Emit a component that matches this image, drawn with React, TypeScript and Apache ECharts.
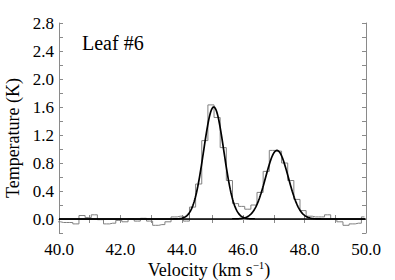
import React, { useEffect, useRef } from "react";
import * as echarts from "echarts";

// Channel centres (km/s) and measured brightness temperatures (K)
const velocities: number[] = [
  39.95, 40.15, 40.35, 40.55, 40.75, 40.95, 41.15, 41.35, 41.55, 41.75,
  41.95, 42.15, 42.35, 42.55, 42.75, 42.95, 43.15, 43.35, 43.55, 43.75,
  43.95, 44.15, 44.35, 44.55, 44.75, 44.95, 45.15, 45.35, 45.55, 45.75,
  45.95, 46.15, 46.35, 46.55, 46.75, 46.95, 47.15, 47.35, 47.55, 47.75,
  47.95, 48.15, 48.35, 48.55, 48.75, 48.95, 49.15, 49.35, 49.55, 49.75,
  49.95,
];
const temperatures: number[] = [
  -0.04, -0.05, -0.05, -0.07, 0.05, 0.02, 0.06, -0.01, -0.07, -0.06,
  -0.02, -0.04, 0.0, -0.03, 0.01, -0.03, -0.09, -0.08, -0.04, 0.03,
  0.04, -0.03, 0.17, 0.5, 1.12, 1.63, 1.45, 1.02, 0.55, 0.22,
  0.18, 0.14, 0.2, 0.38, 0.68, 0.98, 0.97, 0.8, 0.55, 0.28,
  0.12, 0.04, 0.03, 0.03, 0.06, 0.0, -0.04, -0.09, -0.07, -0.06,
  0.03,
];

// Gaussian fit components: amplitude (K), centre (km/s), sigma (km/s)
const fitAmplitudes: number[] = [1.6, 0.98];
const fitCentres: number[] = [45.04, 47.1];
const fitSigmas: number[] = [0.33, 0.37];

const xTicks: number[] = [40, 42, 44, 46, 48, 50];
const yTicks: number[] = [0, 0.4, 0.8, 1.2, 1.6, 2.0, 2.4, 2.8];

const FONT = "Liberation Serif";

function fitCurve(i: number): number[][] {
  const pts: number[][] = [];
  for (let k = 0; k <= 500; k++) {
    const v = xTicks[0] + (k * (xTicks[xTicks.length - 1] - xTicks[0])) / 500;
    const d = v - fitCentres[i];
    pts.push([v, fitAmplitudes[i] * Math.exp(-(d * d) / (2 * fitSigmas[i] * fitSigmas[i]))]);
  }
  return pts;
}

export default function App() {
  const ref = useRef<HTMLDivElement>(null);
  useEffect(() => {
    document.body.style.margin = "0";
    const chart = echarts.init(ref.current!, undefined, { renderer: "svg" });
    const axisGrey = "#8a8a8a";
    const labelStyle = {
      fontFamily: FONT,
      fontSize: 17,
      color: "#000",
    };
    chart.setOption({
      animation: false,
      textStyle: { fontFamily: FONT, fontSize: 17 },
      grid: { left: 59, right: 29, top: 23, bottom: 47 },
      xAxis: [
        {
          type: "value",
          min: 40,
          max: 50,
          interval: 2,
          position: "bottom",
          splitLine: { show: false },
          axisLine: { lineStyle: { color: axisGrey, width: 1 } },
          axisTick: { inside: true, length: 4, lineStyle: { color: axisGrey } },
          minorTick: { show: true, splitNumber: 2, length: 4, lineStyle: { color: axisGrey } },
          axisLabel: {
            ...labelStyle,
            margin: 8,
            formatter: (v: number) => v.toFixed(1),
          },
        },
        {
          type: "value",
          min: 40,
          max: 50,
          interval: 2,
          position: "top",
          splitLine: { show: false },
          axisLine: { lineStyle: { color: axisGrey, width: 1 } },
          axisTick: { inside: true, length: 4, lineStyle: { color: axisGrey } },
          minorTick: { show: true, splitNumber: 2, length: 4, lineStyle: { color: axisGrey } },
          axisLabel: { show: false },
        },
      ],
      yAxis: [
        {
          type: "value",
          min: -0.2,
          max: 2.8,
          interval: 0.2,
          position: "left",
          splitLine: { show: false },
          axisLine: { show: true, lineStyle: { color: axisGrey, width: 1 } },
          axisTick: { inside: true, length: 4, lineStyle: { color: axisGrey } },
          axisLabel: {
            ...labelStyle,
            margin: 5,
            formatter: (v: number) =>
              yTicks.some((t) => Math.abs(t - v) < 1e-6) ? v.toFixed(1) : "",
          },
        },
        {
          type: "value",
          min: -0.2,
          max: 2.8,
          interval: 0.2,
          position: "right",
          splitLine: { show: false },
          axisLine: { show: true, lineStyle: { color: axisGrey, width: 1 } },
          axisTick: { inside: true, length: 4, lineStyle: { color: axisGrey } },
          axisLabel: { show: false },
        },
      ],
      graphic: [
        {
          type: "text",
          left: 82,
          top: 33,
          style: { text: "Leaf #6", font: `20px ${FONT}`, fill: "#000" },
        },
        {
          type: "text",
          x: 13,
          y: 138,
          rotation: Math.PI / 2,
          style: {
            text: "Temperature (K)",
            font: `18px ${FONT}`,
            fill: "#000",
            align: "center",
            verticalAlign: "middle",
          },
        },
        {
          type: "text",
          x: 209,
          y: 269,
          style: {
            text: "{a|Velocity (km s}{s|−1}{a|)}",
            align: "center",
            verticalAlign: "middle",
            rich: {
              a: { fontFamily: FONT, fontSize: 18, fill: "#000", lineHeight: 20, verticalAlign: "bottom" },
              s: { fontFamily: FONT, fontSize: 11, fill: "#000", lineHeight: 20, verticalAlign: "top" },
            },
          },
        },
      ],
      series: [
        {
          type: "line",
          step: "middle",
          data: velocities.map((v, i) => [v, temperatures[i]]),
          showSymbol: false,
          lineStyle: { color: "#808080", width: 1 },
          clip: true,
          z: 2,
        },
        {
          type: "line",
          data: fitCurve(0),
          showSymbol: false,
          lineStyle: { color: "#000", width: 1.7 },
          z: 3,
        },
        {
          type: "line",
          data: fitCurve(1),
          showSymbol: false,
          lineStyle: { color: "#000", width: 1.7 },
          z: 3,
        },
      ],
    });
    return () => chart.dispose();
  }, []);
  return <div ref={ref} style={{ width: 395, height: 280 }} />;
}
